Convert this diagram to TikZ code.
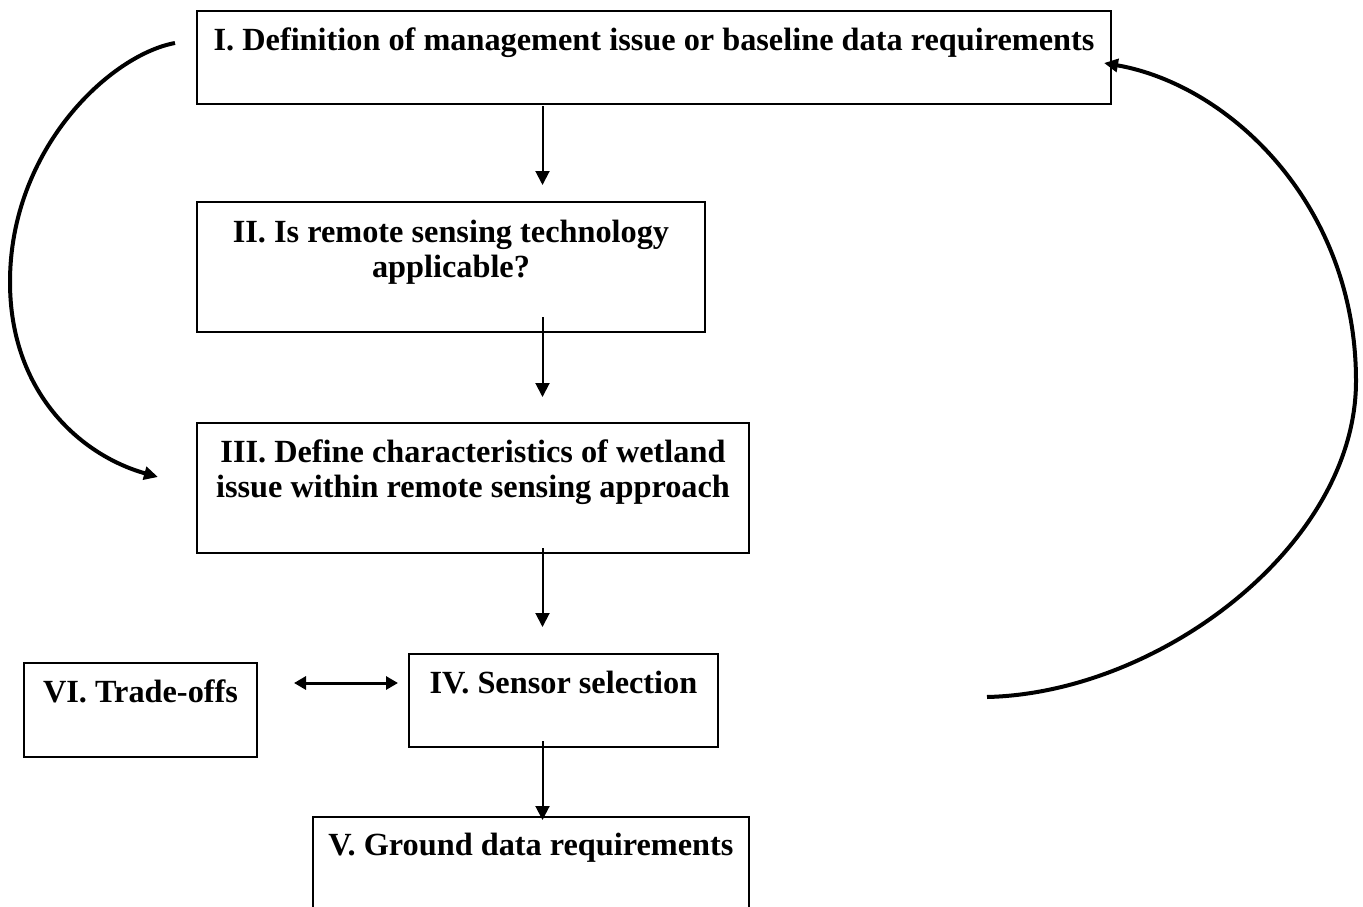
\documentclass[tikz,border=0pt]{standalone}
\usepackage{fontspec}
\setmainfont{Liberation Serif}
\usetikzlibrary{arrows.meta,calc}
\begin{document}
\begin{tikzpicture}[x=1pt,y=-1pt,
  box/.style={draw, line width=2pt, inner sep=0pt, outer sep=0pt, anchor=north west},
  lbl/.style={font=\fontsize{32.3}{36}\selectfont\bfseries, inner sep=0pt, anchor=base},
  arr/.style={line width=2pt, -{Triangle[length=14pt,width=14pt]}},
  darr/.style={line width=3pt, {Triangle[length=12pt,width=13pt]}-{Triangle[length=12pt,width=13pt]}},
  loopline/.style={line width=4pt, -{Triangle[length=14pt,width=13pt]}}]
\useasboundingbox (0,0) rectangle (1363,907);
\clip (0,0) rectangle (1363,907);
% boxes
\node[box, minimum width=914pt, minimum height=93pt] (I) at (197,11) {};
\node[box, minimum width=508pt, minimum height=130pt] (II) at (197,202) {};
\node[box, minimum width=552pt, minimum height=130pt] (III) at (197,423) {};
\node[box, minimum width=309pt, minimum height=93pt] (IV) at (409,654) {};
\node[box, minimum width=233pt, minimum height=94pt] (VI) at (24,663) {};
\node[box, minimum width=436pt, minimum height=140pt] (V) at (313,817) {};
% labels
\node[lbl] (tI) at (I.north |- 0,51) {I. Definition of management issue or baseline data requirements};
\node[lbl] (tIIa) at (II.north |- 0,242) {II. Is remote sensing technology};
\node[lbl] (tIIb) at (II.north |- 0,277) {applicable?};
\node[lbl] (tIIIa) at (III.north |- 0,462) {III. Define characteristics of wetland};
\node[lbl] (tIIIb) at (III.north |- 0,497) {issue within remote sensing approach};
\node[lbl] (tIV) at (IV.north |- 0,693) {IV. Sensor selection};
\node[lbl] (tVI) at (VI.north |- 0,702) {VI. Trade-offs};
\node[lbl] (tV) at (V.north |- 0,855) {V. Ground data requirements};
% straight connectors
\coordinate (col) at (542.5,0);
\draw[arr] ([yshift=-2pt]I.south -| col) -- ([yshift=17pt]II.north -| col);
\draw[arr] ([yshift=15pt]II.south -| col) -- ([yshift=26pt]III.north -| col);
\draw[arr] ([yshift=5pt]III.south -| col) -- ([yshift=27pt]IV.north -| col);
\draw[arr] ([yshift=6pt]IV.south -| col) -- ([yshift=-3pt]V.north -| col);
% double arrow
\coordinate (dy) at (0,683);
\draw[darr] ($(VI.east |- dy)+(37,0)$) -- ($(IV.west |- dy)+(-11,0)$);
% loop curves
\coordinate (Ls) at ($(I.west)+(-22,-14.5)$);
\coordinate (Le) at ($(III.west)+(-39,-11)$);
\draw[loopline] (Ls) .. controls (110,55) and (10,149) .. (10,282)
   .. controls (10,392) and (80,455) .. (Le);
\coordinate (Rs) at ($(IV.east)+(269,-3.5)$);
\coordinate (Re) at ($(I.east)+(-7,5.5)$);
\draw[loopline] (Rs) .. controls (1160,693) and (1356,545) .. (1356,381)
   .. controls (1356,205) and (1230,85) .. (Re);
\end{tikzpicture}
\end{document}
